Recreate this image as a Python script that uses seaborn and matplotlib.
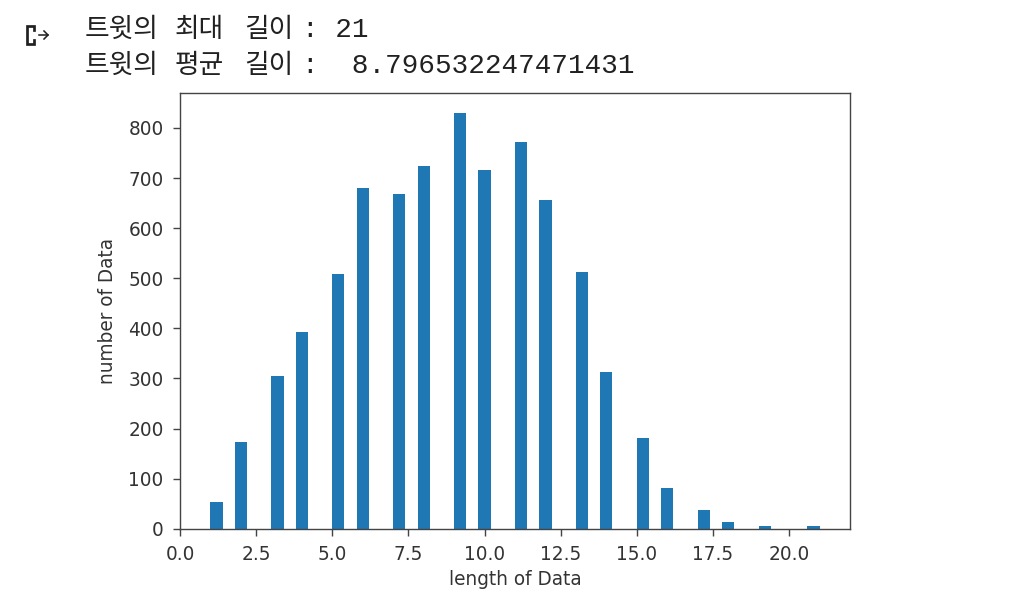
import matplotlib
matplotlib.use("Agg")
import matplotlib.pyplot as plt
from matplotlib.lines import Line2D
import seaborn as sns

# tweet length -> number of tweets
lengths = [1, 2, 3, 4, 5, 6, 7, 8, 9, 10, 11, 12, 13, 14, 15, 16, 17, 18, 19, 20, 21]
counts = [53, 174, 305, 393, 509, 681, 669, 725, 829, 717, 773, 657, 513, 313, 181, 81, 37, 13, 5, 0, 5]

header_words = [["트윗의", "최대", "길이"], ["트윗의", "평균", "길이"]]
header_values = [": 21", ":  8.796532247471431"]

W, H, DPI = 1017, 616, 126
plt.rcParams["font.size"] = 10.6
fig = plt.figure(figsize=(W / DPI, H / DPI), dpi=DPI)


def fx(px):
    return px / W


def fy(py):
    return 1 - py / H


# axes placed like the notebook output
ax = fig.add_axes([fx(180), fy(528.7), fx(850) - fx(180), fy(92.7) - fy(528.7)])

sns.histplot(x=lengths, weights=counts, bins=50, color="#1f77b4", alpha=1,
             linewidth=0, ax=ax)
ax.set_xlabel("length of Data", color="#333333", labelpad=3.5)
ax.set_ylabel("number of Data", color="#333333", labelpad=6.5)
ax.tick_params(colors="#444444", labelcolor="#333333", length=4, pad=5.3)
for sp in ax.spines.values():
    sp.set_color("#444444")

# notebook cell output text above the plot
mono = ["Liberation Mono", "DejaVu Sans Mono"]
word_x = [85, 175, 244]
for i, base in enumerate([37, 73]):
    for x, w in zip(word_x, header_words[i]):
        fig.text(fx(x), fy(base), w, family="Noto Sans CJK KR", fontsize=15.3,
                 color="#212121", va="baseline")
    fig.text(fx(302), fy(base), header_values[i], family=mono, fontsize=15.8,
             color="#212121", va="baseline")

# colab output icon
bracket = [(34, 30.3), (34, 25.7), (26.7, 25.7), (26.7, 43.7), (34, 43.7), (34, 39.7)]
fig.add_artist(Line2D([fx(p[0]) for p in bracket], [fy(p[1]) for p in bracket],
                      color="#212121", lw=1.55, solid_joinstyle="miter"))
fig.add_artist(Line2D([fx(38.5), fx(48)], [fy(35), fy(35)], color="#212121", lw=0.9))
fig.add_artist(Line2D([fx(44), fx(48), fx(44)], [fy(31), fy(35), fy(39)],
                      color="#212121", lw=0.9))

fig.savefig("out.png", dpi=DPI)
